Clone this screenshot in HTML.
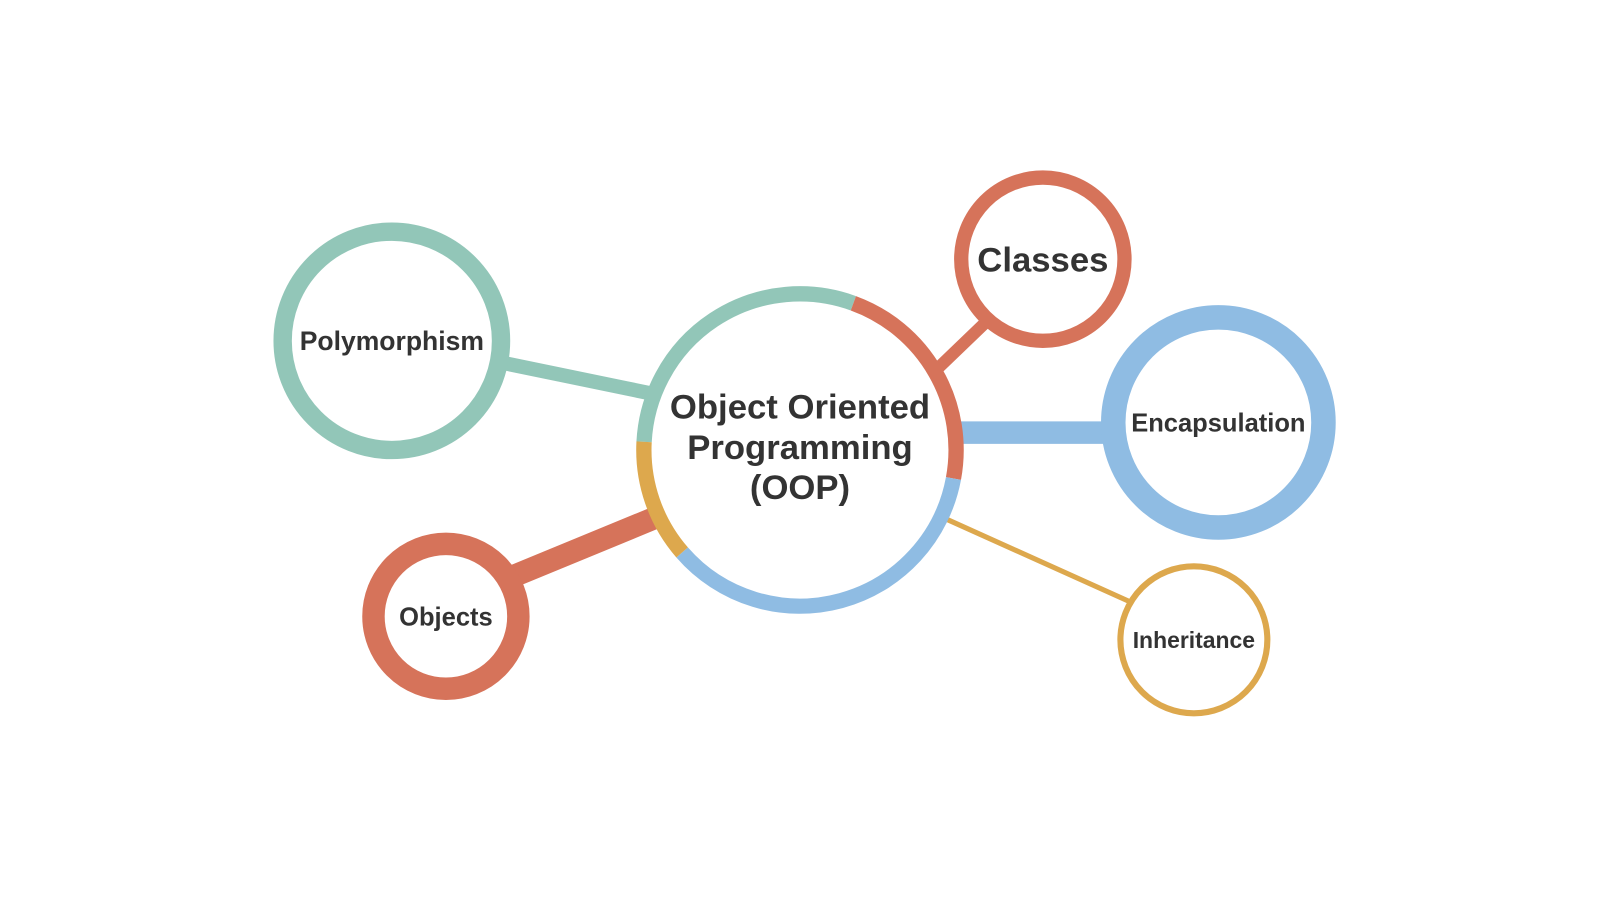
<!DOCTYPE html>
<html><head><meta charset="utf-8"><style>
html,body{margin:0;padding:0;background:#fff;width:1600px;height:900px;overflow:hidden}
svg text{font-family:"Liberation Sans",sans-serif;font-weight:bold;fill:#333;text-anchor:middle}
</style></head><body>
<svg width="1600" height="900" viewBox="0 0 1568 882">
<!-- connectors -->
<line x1="490" y1="355" x2="640" y2="386" stroke="#92c6b8" stroke-width="14"/>
<line x1="970" y1="312" x2="918" y2="362" stroke="#d6735a" stroke-width="12"/>
<line x1="936" y1="424" x2="1085" y2="424" stroke="#8fbce3" stroke-width="22"/>
<line x1="928" y1="509" x2="1108" y2="590" stroke="#dda84d" stroke-width="5"/>
<line x1="495" y1="568" x2="648" y2="505" stroke="#d6735a" stroke-width="22"/>
<!-- center -->
<circle cx="784" cy="441" r="153" fill="#fff"/>
<g fill="none" stroke-width="15">
<path d="M631.2,433 A153 153 0 0 1 836.3,297.2" stroke="#92c6b8"/>
<path d="M836.3,297.2 A153 153 0 0 1 934.4,468.9" stroke="#d6735a"/>
<path d="M934.4,468.9 A153 153 0 0 1 668.5,541.4" stroke="#8fbce3"/>
<path d="M668.5,541.4 A153 153 0 0 1 631.2,433" stroke="#dda84d"/>
</g>
<text x="784" y="410" font-size="34">Object Oriented</text>
<text x="784" y="450" font-size="34">Programming</text>
<text x="784" y="489" font-size="34">(OOP)</text>
<!-- nodes -->
<circle cx="384" cy="334" r="107" fill="#fff" stroke="#92c6b8" stroke-width="18"/>
<text x="384" y="343" font-size="26">Polymorphism</text>
<circle cx="1022" cy="254" r="80" fill="#fff" stroke="#d6735a" stroke-width="14"/>
<text x="1022" y="266" font-size="34">Classes</text>
<circle cx="1194" cy="414" r="103" fill="#fff" stroke="#8fbce3" stroke-width="24"/>
<text x="1194" y="423" font-size="25">Encapsulation</text>
<circle cx="1170" cy="627" r="72" fill="#fff" stroke="#dda84d" stroke-width="6"/>
<text x="1170" y="635" font-size="22.5">Inheritance</text>
<circle cx="437" cy="604" r="71" fill="#fff" stroke="#d6735a" stroke-width="22"/>
<text x="437" y="613" font-size="25">Objects</text>
</svg>
</body></html>
